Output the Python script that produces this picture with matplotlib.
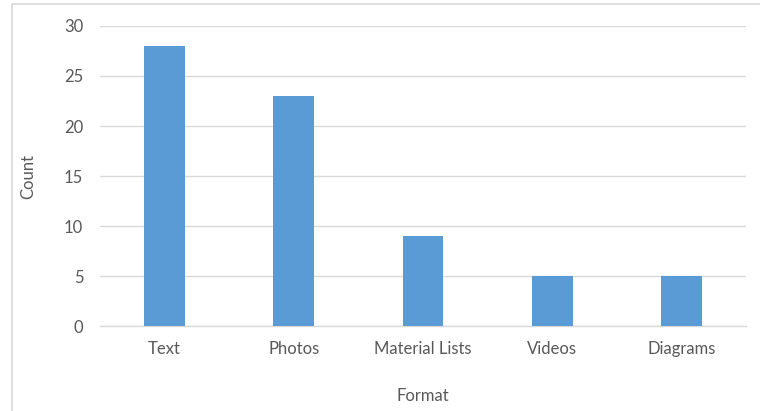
import matplotlib.pyplot as plt
from matplotlib.patches import Rectangle
import numpy as np

# data
formats = ['Text', 'Photos', 'Material Lists', 'Videos', 'Diagrams']
counts = [28, 23, 9, 5, 5]
yticks = [0, 5, 10, 15, 20, 25, 30]

plt.rcParams['font.family'] = ['Lato', 'DejaVu Sans']
grey = '#595959'

fig = plt.figure(figsize=(7.6, 4.11), dpi=100)
# light outer frame, like an Excel chart area
fig.patches.append(Rectangle((12 / 760, -0.1), 1.2, 1 - 4 / 411 + 0.1,
                             transform=fig.transFigure, fill=False,
                             edgecolor='#d9d9d9', linewidth=1.2))

ax = fig.add_axes([100 / 760, 1 - 326 / 411, 646 / 760, 300 / 411])
x = np.arange(len(formats))
ax.bar(x, counts, width=0.317, color='#5b9bd5', zorder=3)

ax.set_xlim(-0.5, len(formats) - 0.5)
ax.set_ylim(0, 30)
ax.set_yticks(yticks)
ax.set_xticks(x)
ax.set_xticklabels(formats)
ax.yaxis.grid(True, color='#d9d9d9', linewidth=1, zorder=0)
for s in ['top', 'right', 'left']:
    ax.spines[s].set_visible(False)
ax.spines['bottom'].set_color('#d9d9d9')
ax.spines['bottom'].set_linewidth(1)
ax.tick_params(axis='both', length=0, colors=grey, labelsize=12)
ax.tick_params(axis='x', pad=11)
ax.tick_params(axis='y', pad=12)

ax.set_xlabel('Format', color=grey, fontsize=12, labelpad=22)
ax.set_ylabel('Count', color=grey, fontsize=12, labelpad=20)

fig.savefig('out.png', dpi=100)
